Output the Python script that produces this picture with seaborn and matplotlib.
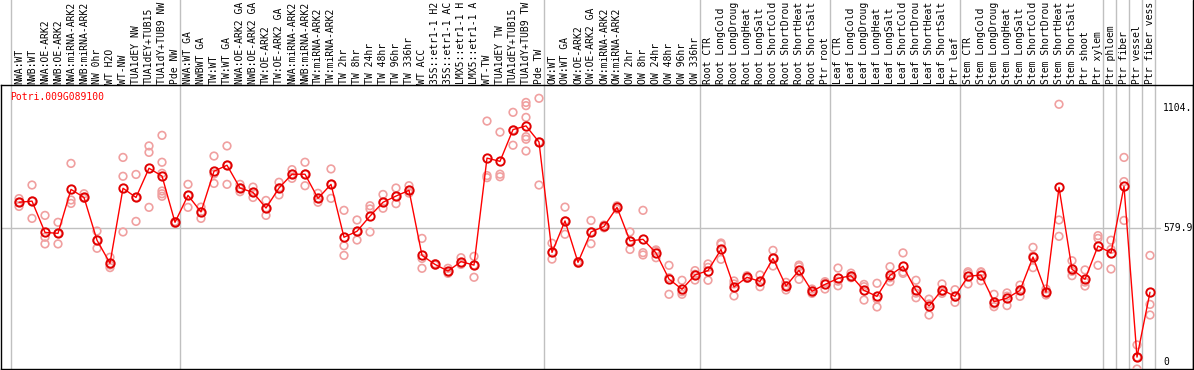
import numpy as np
import pandas as pd
import matplotlib
matplotlib.use("Agg")
import matplotlib.pyplot as plt
import seaborn as sns

gene = "Potri.009G089100"

labels_nw = ["NWA:WT", "NWB:WT", "NWA:OE-ARK2", "NWB:OE-ARK2", "NWA:miRNA-ARK2",
             "NWB:miRNA-ARK2", "NW 0hr", "WT H2O", "WT-NW", "TUA1dEY NW",
             "TUA1dEY+TUB15", "TUA1dY+TUB9 NW", "Pde NW"]
labels_tw = ["NWA:WT GA", "NWBWT GA", "TW:WT", "TW:WT GA", "NWA:OE-ARK2 GA",
             "NWB:OE-ARK2 GA", "TW:OE-ARK2", "TW:OE-ARK2 GA", "NWA:miRNA-ARK2",
             "NWB:miRNA-ARK2", "TW:miRNA-ARK2", "TW:miRNA-ARK2", "TW 2hr", "TW 8hr",
             "TW 24hr", "TW 48hr", "TW 96hr", "TW 336hr", "WT ACC", "35S::etr1-1 H2",
             "35S::etr1-1 AC", "LMX5::etr1-1 H", "LMX5::etr1-1 A", "WT-TW",
             "TUA1dEY TW", "TUA1dEY+TUB15", "TUA1dY+TUB9 TW", "Pde TW"]
labels_ow = ["OW:WT", "OW:WT GA", "OW:OE-ARK2", "OW:OE-ARK2 GA", "OW:miRNA-ARK2",
             "OW:miRNA-ARK2", "OW 2hr", "OW 8hr", "OW 24hr", "OW 48hr", "OW 96hr",
             "OW 336hr"]
labels_root = ["Root CTR", "Root LongCold", "Root LongDroug", "Root LongHeat",
               "Root LongSalt", "Root ShortCold", "Root ShortDrou", "Root ShortHeat",
               "Root ShortSalt", "Ptr root"]
labels_leaf = ["Leaf CTR", "Leaf LongCold", "Leaf LongDroug", "Leaf LongHeat",
               "Leaf LongSalt", "Leaf ShortCold", "Leaf ShortDrou", "Leaf ShortHeat",
               "Leaf ShortSalt", "Ptr leaf"]
labels_stem = ["Stem CTR", "Stem LongCold", "Stem LongDroug", "Stem LongHeat",
               "Stem LongSalt", "Stem ShortCold", "Stem ShortDrou", "Stem ShortHeat",
               "Stem ShortSalt", "Ptr shoot", "Ptr xylem"]
labels_phloem = ["Ptr phloem"]
labels_fiber = ["Ptr fiber"]
labels_vessel = ["Ptr vessel"]
labels_fv = ["Ptr fiber vess"]

groups = [labels_nw, labels_tw, labels_ow, labels_root, labels_leaf, labels_stem,
          labels_phloem, labels_fiber, labels_vessel, labels_fv]

means = [693, 698, 562, 558, 749, 714, 528, 428, 754, 714, 841, 807, 606,
         723, 651, 828, 854, 755, 736, 668, 755, 815, 815, 710, 771, 541, 567, 633,
         693, 720, 745, 462, 423, 394, 435, 420, 885, 871, 1009, 1025, 955,
         475, 612, 432, 564, 588, 671, 525, 532, 473, 359, 315, 377,
         396, 488, 325, 367, 349, 449, 329, 397, 306, 336,
         362, 374, 310, 284, 375, 415, 310, 242, 313, 284,
         371, 377, 261, 276, 310, 455, 302, 758, 402, 358, 503,
         473, 762, 20, 302]

reps = [[709, 693, 675], [768, 698, 623], [636, 541, 512], [606, 558, 512],
        [862, 703, 688], [730, 714, 710], [568, 528, 493], [454, 420, 409],
        [888, 806, 564], [814, 714, 610], [938, 910, 671],
        [984, 867, 819, 742, 730, 719], [609, 606, 601],
        [771, 723, 671], [672, 651, 623], [894, 816, 775], [938, 854, 771],
        [771, 755, 739], [759, 736, 714], [701, 668, 636], [780, 755, 725],
        [835, 815, 797], [867, 815, 765], [732, 710, 693], [838, 771, 710],
        [658, 504, 462], [616, 567, 529], [678, 664, 564], [727, 693, 667],
        [755, 720, 687], [765, 745, 733], [536, 449, 406], [426, 423, 420],
        [406, 391, 384], [452, 430, 423], [458, 420, 367], [1046, 809, 800],
        [998, 815, 804], [1084, 1007, 941], [1127, 1113, 1062, 978, 967, 916],
        [1145, 955, 768],
        [515, 475, 446], [672, 612, 554], [435, 432, 428], [614, 564, 513],
        [594, 588, 582], [678, 672, 663], [564, 525, 488], [658, 474, 464],
        [486, 481, 452], [419, 365, 293], [354, 304, 293], [396, 380, 355],
        [425, 410, 354], [516, 510, 445], [351, 338, 286], [374, 367, 362],
        [377, 345, 326], [484, 449, 416], [345, 330, 312], [420, 413, 358],
        [316, 306, 297], [348, 344, 316],
        [407, 350, 330], [385, 373, 365], [336, 326, 268], [341, 273, 238],
        [413, 365, 348], [473, 390, 384], [354, 298, 278], [272, 251, 203],
        [338, 305, 297], [313, 281, 258],
        [391, 384, 338], [391, 388, 352], [293, 251, 239], [299, 285, 244],
        [333, 313, 284], [497, 459, 409], [316, 300, 290], [1119, 616, 545],
        [439, 393, 374], [399, 346, 329], [548, 536, 419],
        [528, 488, 403], [888, 783, 614], [73, 20, -32], [462, 249, 203]]

ytick_values = [1104.0, 579.9, 0]
ytick_labels = ["1104.", "579.9", "0"]

# ---------------------------------------------------------------------------
labels = [l for g in groups for l in g]
n = len(labels)
idx = np.arange(n)
boundaries = np.cumsum([0] + [len(g) for g in groups])

rep_df = pd.DataFrame([(i, v) for i, vals in enumerate(reps) for v in vals],
                      columns=["sample", "value"])
mean_df = pd.DataFrame({"sample": idx, "value": means})

sns.set_style("white")
plt.rcParams["font.family"] = ["DejaVu Sans Mono", "DejaVu Sans"]

W, H = 1194, 370
fig = plt.figure(figsize=(W / 100, H / 100), dpi=100)
ax_top_px, ax_bot_px = 85, 369
ax = fig.add_axes([1 / W, (H - ax_bot_px) / H, (W - 2) / W, (ax_bot_px - ax_top_px) / H])

px0, dpx = 19.0, 13.0
xl = (1 - px0) / dpx
xr = (W - 1 - px0) / dpx
ax.set_xlim(xl, xr)
ax.set_ylim(-31.7, 1202.8)

grid_c = "#c0c0c0"
ax_h = ax_bot_px - ax_top_px
for b in boundaries:
    ax.axvline(b - 0.62, ymin=0, ymax=1 + ax_top_px / ax_h + 0.01, color=grid_c,
               lw=1, clip_on=False, zorder=1)
ax.axhline(579.9, xmin=0, xmax=(88.0 - 0.2 - xl) / (xr - xl), color=grid_c, lw=1, zorder=1)

sns.scatterplot(data=rep_df, x="sample", y="value", ax=ax, marker="o",
                facecolor="none", edgecolor="#f0a0a0", linewidth=1.2, s=30,
                zorder=3, legend=False)
sns.lineplot(data=mean_df, x="sample", y="value", ax=ax, color="red", lw=1,
             marker="o", markersize=6, markerfacecolor="none",
             markeredgecolor="#e00000", markeredgewidth=1.4, zorder=4,
             estimator=None, legend=False)

for sp in ax.spines.values():
    sp.set_color("black")
    sp.set_linewidth(1)
ax.set_xticks([])
ax.set_yticks([])
ax.set_xlabel("")
ax.set_ylabel("")

fs = 7.0
for i, lab in enumerate(labels):
    ax.text(i, 1 + 1.5 / ax_h, lab, transform=ax.get_xaxis_transform(),
            rotation=90, ha="center", va="bottom", fontsize=fs, color="black",
            clip_on=False)

for v, t in zip(ytick_values, ytick_labels):
    ax.text(88.0, v, t, ha="left", va="center", fontsize=fs, color="black",
            clip_on=True)

ax.text((10 - 1) / (W - 2), 1 - 12 / ax_h, gene, transform=ax.transAxes,
        ha="left", va="center", fontsize=fs, color="red")

# right border through header
fig.add_artist(plt.Line2D([(W - 1) / W, (W - 1) / W], [0, 1], color="black", lw=1,
                          transform=fig.transFigure))

fig.savefig("out.png", dpi=100)
